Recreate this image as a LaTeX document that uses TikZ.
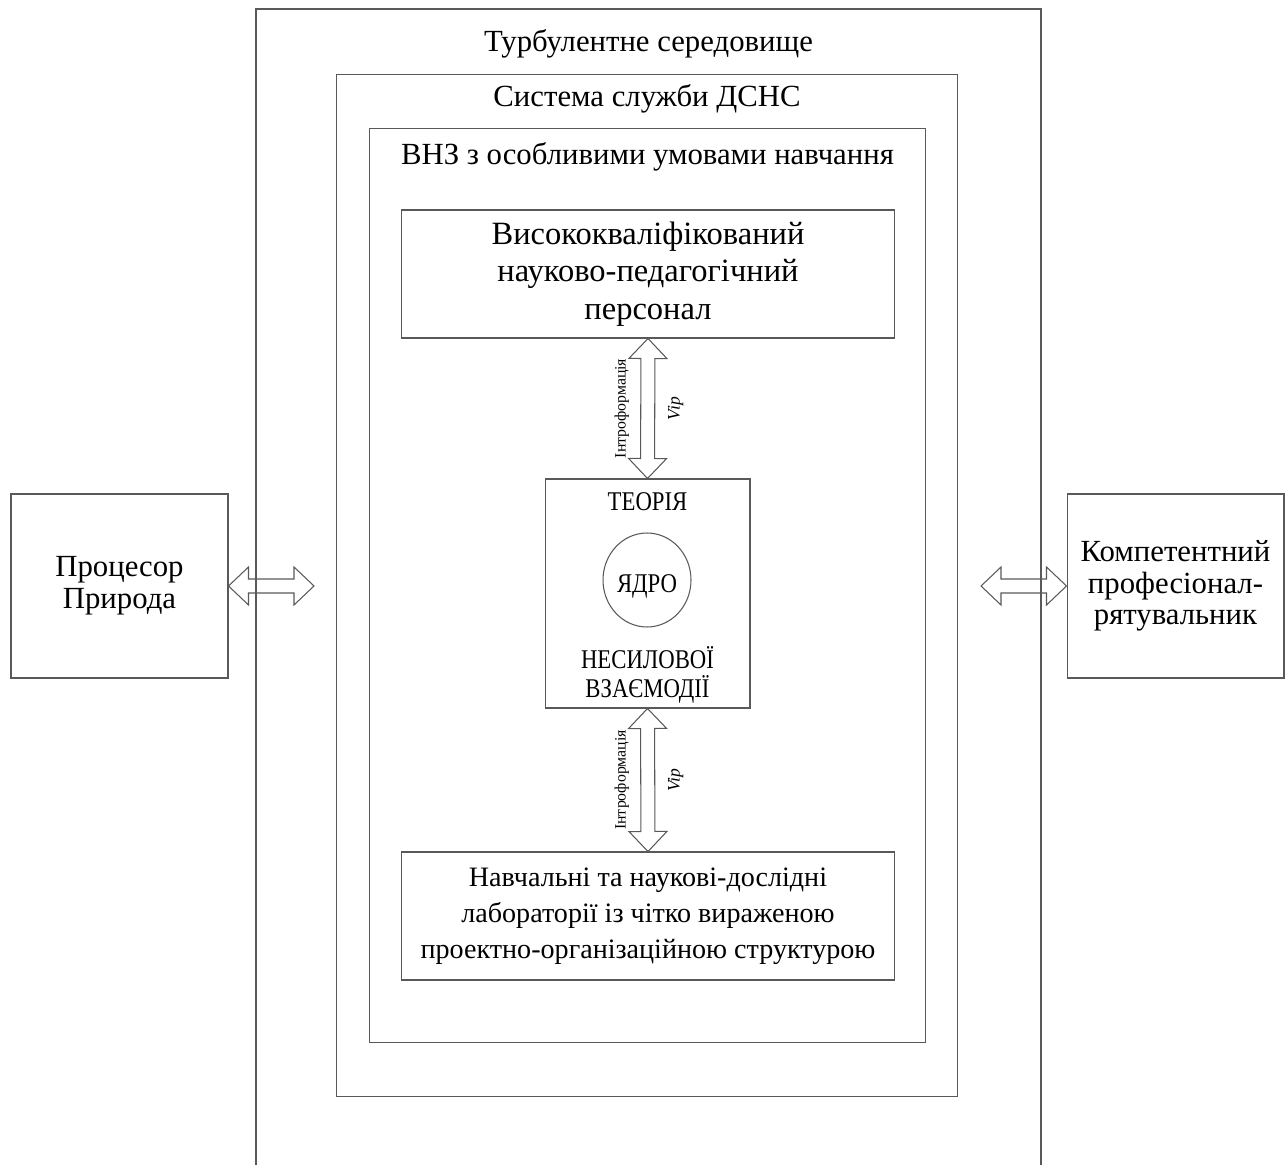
\documentclass[tikz,border=0pt]{standalone}
\usepackage{fontspec}
\setmainfont{Liberation Serif}
\newfontfamily\narrowserif[FakeStretch=0.84]{Liberation Serif}
\usetikzlibrary{calc, shapes.geometric}

\colorlet{linegray}{black!65}

\begin{document}
\begin{tikzpicture}[
    x=0.02cm, y=-0.02cm,
    frame/.style={draw=linegray, line width=0.6pt, inner sep=0pt},
    box/.style={draw=linegray, line width=0.6pt, align=center, inner sep=2pt, font=\fontsize{18.5}{21.5}\selectfont},
    sidebox/.style={box, minimum width=4.34cm, minimum height=3.68cm, font=\fontsize{17.5}{18}\selectfont},
    title/.style={anchor=base, font=\fontsize{17.5}{20}\selectfont},
    coretext/.style={align=center, inner sep=0pt, font=\narrowserif\fontsize{15.4}{16.5}\selectfont},
    vlabel/.style={rotate=90, inner sep=1pt, font=\fontsize{9}{10}\selectfont},
    dblarrow/.style={draw=linegray, line width=0.6pt, line join=miter, to path={
        -- ($(\tikztostart)!0.4cm!(\tikztotarget)!0.38cm!90:(\tikztotarget)$)
        -- ($(\tikztostart)!0.4cm!(\tikztotarget)!0.14cm!90:(\tikztotarget)$)
        -- ($(\tikztotarget)!0.4cm!(\tikztostart)!0.14cm!-90:(\tikztostart)$)
        -- ($(\tikztotarget)!0.4cm!(\tikztostart)!0.38cm!-90:(\tikztostart)$)
        -- (\tikztotarget)
        -- ($(\tikztotarget)!0.4cm!(\tikztostart)!0.38cm!90:(\tikztostart)$)
        -- ($(\tikztotarget)!0.4cm!(\tikztostart)!0.14cm!90:(\tikztostart)$)
        -- ($(\tikztostart)!0.4cm!(\tikztotarget)!0.14cm!-90:(\tikztotarget)$)
        -- ($(\tikztostart)!0.4cm!(\tikztotarget)!0.38cm!-90:(\tikztotarget)$)
        -- cycle}}
]
\useasboundingbox (0,0) rectangle (1287,1165);

% nested frames
\draw[frame] (256,1165) |- (1041,9) -- (1041,1165);
\node[title] (envtitle) at (648.5,52) {Турбулентне середовище};
\node[frame, minimum width=12.44cm, minimum height=20.46cm] (dsns) at (647,585.5) {};
\node[title] (dsnstitle) at (647,107) {Система служби ДСНС};
\node[frame, minimum width=11.14cm, minimum height=18.3cm] (vnz) at (647.5,585.5) {};
\node[title] (vnztitle) at (647.5,165) {ВНЗ з особливими умовами навчання};

\node[box, minimum width=9.88cm, minimum height=2.56cm] (staff) at (648,274) {Висококваліфікований\\науково-педагогічний\\персонал};
\node[box, minimum width=9.88cm, minimum height=2.56cm, font=\fontsize{16}{20.5}\selectfont] (labs) at (648,916) {Навчальні та наукові-дослідні\\лабораторії із чітко вираженою\\проектно-організаційною структурою};

\node[box, minimum width=4.1cm, minimum height=4.58cm] (core) at (647.5,593.5) {};
\node[coretext, anchor=base] (theory) at (647.5,510) {ТЕОРІЯ};
\node[draw=linegray, line width=0.6pt, ellipse, minimum width=1.76cm, minimum height=1.88cm, inner sep=0pt] (kernel) at (647,580) {};
\node[coretext, anchor=base] (kerneltext) at (647,592) {ЯДРО};
\node[coretext] (nonforce) at (647.5,675) {НЕСИЛОВОЇ\\ВЗАЄМОДІЇ};

\node[sidebox] (nature) at (119.5,586) {Процесор\\Природа};
\node[sidebox] (rescuer) at (1175.5,586) {Компетентний\\професіонал-\\рятувальник};

\coordinate (natureend) at (314,586);
\coordinate (rescuerend) at (981,586);

\draw[dblarrow] (nature.east) to (natureend);
\draw[dblarrow] (rescuerend) to (rescuer.west);
\draw[dblarrow] (staff.south) to (core.north);
\draw[dblarrow] (core.south) to (labs.north);

\node[vlabel] (info1) at ($(staff.south)!0.5!(core.north)+(-26,0)$) {Інтроформація};
\node[vlabel, font=\fontsize{10}{11}\selectfont\itshape] (vip1) at ($(staff.south)!0.5!(core.north)+(28,0)$) {Vip};
\node[vlabel] (info2) at ($(core.south)!0.5!(labs.north)+(-26,0)$) {Інтроформація};
\node[vlabel, font=\fontsize{10}{11}\selectfont\itshape] (vip2) at ($(core.south)!0.5!(labs.north)+(28,0)$) {Vip};
\end{tikzpicture}
\end{document}
